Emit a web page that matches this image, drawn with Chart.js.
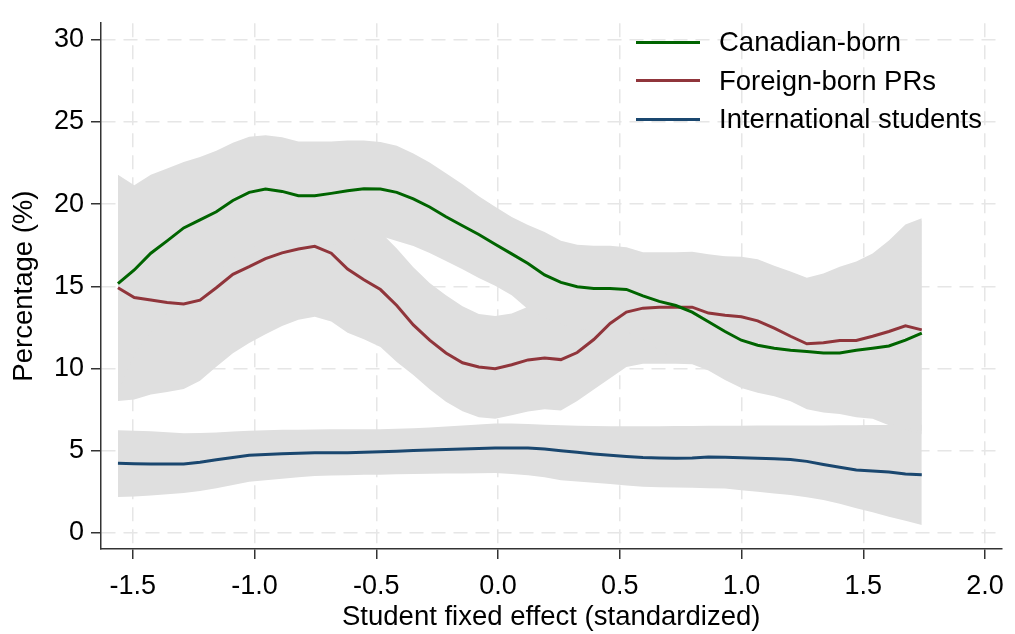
<!DOCTYPE html>
<html>
<head>
<meta charset="utf-8">
<script src="https://cdn.jsdelivr.net/npm/chart.js@4.4.1/dist/chart.umd.min.js"></script>
<style>
  html, body { margin: 0; padding: 0; background: #fff; }
  #wrap { position: relative; width: 1015px; height: 634px; }
  #legend { position: absolute; left: 636px; top: 23px; font-family: 'Liberation Sans', Arial, sans-serif; font-size: 27.5px; color: #000; }
  .row { display: flex; align-items: center; height: 38.5px; white-space: nowrap; }
  .swatch { width: 64px; height: 3px; margin-right: 19px; }
</style>
</head>
<body>
<div id="wrap">
  <canvas id="chart" width="1015" height="634"></canvas>
  <div id="legend"></div>
</div>
<script>
'use strict';

// student fixed effect (standardized), local polynomial grid
const xValues = [-1.561, -1.494, -1.426, -1.359, -1.291, -1.224, -1.157, -1.089, -1.022, -0.955,
  -0.887, -0.820, -0.753, -0.685, -0.618, -0.551, -0.483, -0.416, -0.348, -0.281,
  -0.214, -0.146, -0.079, -0.012, 0.056, 0.123, 0.191, 0.258, 0.325, 0.393,
  0.460, 0.527, 0.595, 0.662, 0.730, 0.797, 0.864, 0.932, 0.999, 1.066,
  1.134, 1.201, 1.268, 1.336, 1.403, 1.471, 1.538, 1.605, 1.673, 1.740];

const seriesLabels = ['Canadian-born', 'Foreign-born PRs', 'International students'];

const canadianBorn = [15.16, 15.99, 17.01, 17.76, 18.55, 19.04, 19.53, 20.22, 20.71, 20.91,
  20.77, 20.51, 20.51, 20.65, 20.81, 20.93, 20.91, 20.71, 20.32, 19.82,
  19.23, 18.68, 18.15, 17.56, 16.97, 16.38, 15.69, 15.24, 14.97, 14.87,
  14.87, 14.81, 14.42, 14.08, 13.83, 13.43, 12.84, 12.25, 11.72, 11.41,
  11.23, 11.11, 11.03, 10.94, 10.94, 11.11, 11.23, 11.37, 11.72, 12.15];
const canadianBornHigh = [21.79, 21.15, 21.79, 22.16, 22.56, 22.86, 23.25, 23.73, 24.10, 24.19,
  24.07, 23.80, 23.80, 23.80, 23.86, 23.86, 23.77, 23.55, 23.07, 22.53,
  21.88, 21.20, 20.47, 19.83, 19.21, 18.73, 18.30, 17.77, 17.52, 17.46,
  17.46, 17.37, 17.07, 17.07, 17.07, 17.10, 16.95, 16.83, 16.80, 16.65,
  16.25, 15.90, 15.52, 15.78, 16.19, 16.50, 16.99, 17.78, 18.75, 19.14];
const canadianBornLow = [8.53, 10.83, 12.23, 13.36, 14.54, 15.22, 15.81, 16.71, 17.32, 17.63,
  17.47, 17.22, 17.22, 17.50, 17.76, 18.00, 18.05, 17.75, 17.45, 17.02,
  16.53, 16.04, 15.50, 15.03, 14.46, 13.60, 13.08, 12.71, 12.42, 12.28,
  12.28, 12.25, 11.77, 11.09, 10.59, 10.45, 10.00, 9.40, 8.90, 8.60,
  8.40, 8.10, 7.60, 7.40, 7.30, 7.10, 7.00, 6.70, 6.40, 6.20];

const foreignBornPR = [14.91, 14.32, 14.16, 14.02, 13.92, 14.16, 14.91, 15.73, 16.19, 16.68,
  17.03, 17.27, 17.43, 17.01, 16.05, 15.40, 14.80, 13.83, 12.65, 11.72,
  10.94, 10.35, 10.09, 9.99, 10.23, 10.52, 10.64, 10.54, 10.97, 11.76,
  12.74, 13.43, 13.67, 13.73, 13.73, 13.73, 13.37, 13.24, 13.14, 12.90,
  12.45, 11.96, 11.50, 11.56, 11.70, 11.70, 11.96, 12.25, 12.59, 12.35];
const foreignBornPRHigh = [21.50, 20.53, 19.90, 19.47, 19.09, 19.07, 19.72, 20.53, 20.83, 21.28,
  21.48, 21.57, 21.71, 21.17, 19.93, 19.02, 18.30, 17.29, 16.16, 15.20,
  14.45, 13.79, 13.32, 13.19, 13.34, 13.75, 13.76, 13.64, 13.92, 14.80,
  16.08, 16.77, 17.00, 17.00, 17.00, 17.00, 16.86, 16.80, 16.70, 16.60,
  16.20, 15.85, 15.48, 15.70, 16.10, 16.36, 16.90, 17.70, 18.70, 19.00];
const foreignBornPRLow = [8.02, 8.11, 8.42, 8.57, 8.75, 9.25, 10.10, 10.93, 11.55, 12.08,
  12.58, 12.97, 13.15, 12.85, 12.17, 11.78, 11.30, 10.40, 9.60, 8.73,
  7.98, 7.40, 7.04, 6.95, 7.15, 7.39, 7.52, 7.44, 8.02, 8.72,
  9.40, 10.09, 10.29, 10.29, 10.29, 10.25, 9.88, 9.30, 8.82, 8.52,
  8.31, 8.00, 7.52, 7.33, 7.23, 7.04, 6.94, 6.55, 6.30, 6.00];

const intlStudents = [4.23, 4.21, 4.19, 4.19, 4.19, 4.30, 4.45, 4.58, 4.72, 4.77,
  4.82, 4.85, 4.88, 4.88, 4.88, 4.91, 4.94, 4.97, 5.01, 5.04,
  5.07, 5.10, 5.13, 5.16, 5.17, 5.17, 5.10, 5.00, 4.90, 4.80,
  4.72, 4.65, 4.58, 4.56, 4.54, 4.56, 4.61, 4.60, 4.57, 4.54,
  4.51, 4.46, 4.35, 4.16, 3.99, 3.82, 3.76, 3.70, 3.58, 3.54];
const intlStudentsHigh = [6.25, 6.22, 6.19, 6.12, 6.06, 6.08, 6.10, 6.16, 6.22, 6.25,
  6.27, 6.28, 6.29, 6.30, 6.30, 6.31, 6.31, 6.34, 6.37, 6.41,
  6.47, 6.53, 6.60, 6.65, 6.65, 6.62, 6.58, 6.55, 6.52, 6.50,
  6.49, 6.49, 6.49, 6.49, 6.50, 6.50, 6.51, 6.52, 6.52, 6.53,
  6.53, 6.53, 6.53, 6.53, 6.54, 6.55, 6.56, 6.57, 6.58, 6.60];
const intlStudentsLow = [2.18, 2.22, 2.27, 2.35, 2.42, 2.55, 2.71, 2.91, 3.11, 3.20,
  3.30, 3.38, 3.46, 3.49, 3.51, 3.53, 3.54, 3.56, 3.58, 3.60,
  3.61, 3.62, 3.63, 3.64, 3.58, 3.50, 3.38, 3.20, 3.12, 3.05,
  2.97, 2.88, 2.81, 2.78, 2.76, 2.74, 2.72, 2.70, 2.60, 2.50,
  2.40, 2.30, 2.17, 2.00, 1.78, 1.50, 1.25, 0.99, 0.74, 0.48];

const lineColors = ['#006400', '#90353b', '#1a476f'];
const bandColor = '#dfdfdf';
const tickFont = { family: "'Liberation Sans', Arial, sans-serif", size: 27 };
const titleFont = { family: "'Liberation Sans', Arial, sans-serif", size: 27.5 };

const pts = arr => xValues.map((x, i) => ({ x: x, y: arr[i] }));

function bandSets(low, high) {
  return [
    { data: pts(low), borderColor: 'rgba(0,0,0,0)', borderWidth: 0, pointRadius: 0, fill: false, order: 1 },
    { data: pts(high), borderColor: 'rgba(0,0,0,0)', borderWidth: 0, pointRadius: 0,
      fill: '-1', backgroundColor: bandColor, order: 1 }
  ];
}

function lineSet(label, values, color) {
  return { label: label, data: pts(values), borderColor: color, borderWidth: 3,
    pointRadius: 0, fill: false, tension: 0, order: 0 };
}

const datasets = [
  ...bandSets(canadianBornLow, canadianBornHigh),
  ...bandSets(foreignBornPRLow, foreignBornPRHigh),
  ...bandSets(intlStudentsLow, intlStudentsHigh),
  lineSet(seriesLabels[0], canadianBorn, lineColors[0]),
  lineSet(seriesLabels[1], foreignBornPR, lineColors[1]),
  lineSet(seriesLabels[2], intlStudents, lineColors[2])
];

const gridOpts = {
  color: '#e6e6e6', lineWidth: 1.5,
  tickColor: '#333', tickWidth: 1.5, tickLength: 10, tickBorderDash: []
};
const borderOpts = { color: '#333', width: 1.5, dash: [14, 8] };

new Chart(document.getElementById('chart').getContext('2d'), {
  type: 'line',
  data: { datasets: datasets },
  options: {
    responsive: false,
    animation: false,
    events: [],
    layout: { padding: { top: 7, left: 4, right: 8, bottom: 0 } },
    plugins: {
      legend: { display: false },
      tooltip: { enabled: false }
    },
    scales: {
      x: {
        type: 'linear',
        min: -1.6306,
        max: 2.067,
        afterFit: scale => { scale.height = 85; },
        ticks: {
          stepSize: 0.5, includeBounds: false, font: tickFont, color: '#000', padding: 11,
          maxRotation: 0, autoSkip: false,
          callback: v => v.toFixed(1)
        },
        grid: gridOpts,
        border: borderOpts,
        title: { display: true, text: 'Student fixed effect (standardized)', font: titleFont, color: '#000',
          padding: { top: 0, bottom: 0 } }
      },
      y: {
        type: 'linear',
        min: -0.979,
        max: 31.0,
        afterFit: scale => { scale.width = 97; },
        ticks: {
          stepSize: 5, includeBounds: false, font: tickFont, color: '#000', padding: 7,
          callback: v => String(v)
        },
        grid: gridOpts,
        border: borderOpts,
        title: { display: true, text: 'Percentage (%)', font: titleFont, color: '#000',
          padding: { top: 4, bottom: 0 } }
      }
    }
  }
});

// legend placed inside the plot, top right
const legend = document.getElementById('legend');
seriesLabels.forEach((label, i) => {
  const row = document.createElement('div');
  row.className = 'row';
  const sw = document.createElement('span');
  sw.className = 'swatch';
  sw.style.background = lineColors[i];
  const txt = document.createElement('span');
  txt.textContent = label;
  row.appendChild(sw);
  row.appendChild(txt);
  legend.appendChild(row);
});
</script>
</body>
</html>
